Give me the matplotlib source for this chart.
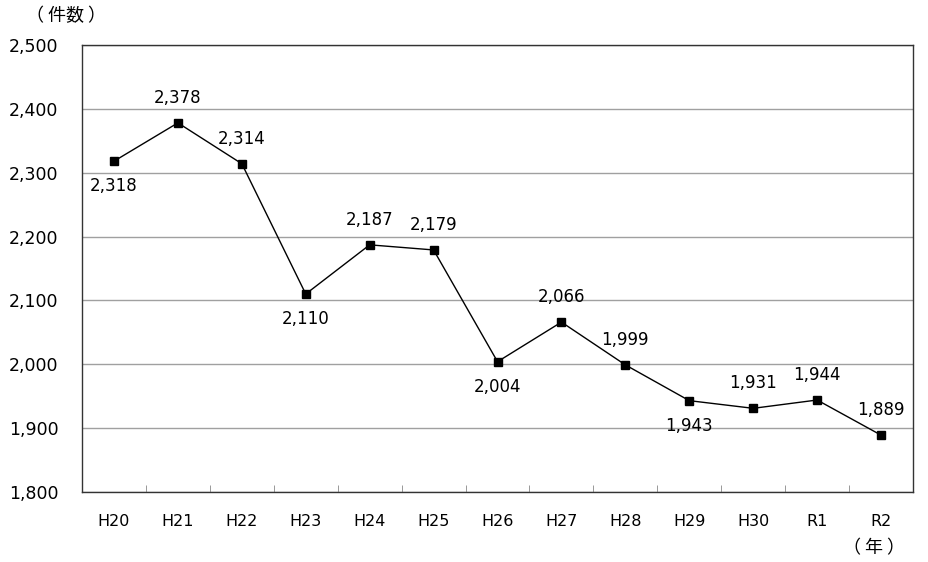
import matplotlib
matplotlib.use("Agg")
import matplotlib.pyplot as plt
from matplotlib.ticker import FixedLocator, FuncFormatter

plt.rcParams['font.family'] = ['DejaVu Sans', 'Noto Sans CJK JP']

years = ["H20", "H21", "H22", "H23", "H24", "H25", "H26",
         "H27", "H28", "H29", "H30", "R1", "R2"]
counts = [2318, 2378, 2314, 2110, 2187, 2179, 2004,
          2066, 1999, 1943, 1931, 1944, 1889]
# label placement: True = below the point
below = [True, False, False, True, False, False, True,
         False, False, True, False, False, False]

fig = plt.figure(figsize=(9.29, 5.62), dpi=100)
ax = fig.add_axes([0.0883, 0.1246, 0.8945, 0.7954])

x = list(range(len(years)))
ax.plot(x, counts, color='black', lw=1.0, marker='s', ms=5.5, mfc='black', mec='black', zorder=3)

for xi, v, b in zip(x, counts, below):
    off = -18 if b else 18
    ax.annotate(f"{v:,}", (xi, v), xytext=(0, off), textcoords='offset points',
                ha='center', va='center', fontsize=12)

ax.set_xlim(-0.5, len(years) - 0.5)
ax.set_ylim(1800, 2500)
ax.set_yticks(range(1800, 2501, 100))
ax.yaxis.set_major_formatter(FuncFormatter(lambda v, p: f"{int(v):,}"))
ax.set_xticks(x)
ax.set_xticklabels(years, fontsize=11.5)
ax.xaxis.set_minor_locator(FixedLocator([i + 0.5 for i in range(len(years) - 1)]))
ax.tick_params(axis='x', which='major', length=0, pad=16)
ax.tick_params(axis='x', which='minor', direction='in', length=5, color='#888888')
ax.tick_params(axis='y', length=0, pad=17, labelsize=12.5)

ax.grid(axis='y', color='#a0a0a0', lw=1.0)
ax.set_axisbelow(True)
for s in ax.spines.values():
    s.set_color('#333333')
    s.set_linewidth(1.0)

cjk = ['Noto Sans CJK JP', 'DejaVu Sans']
fig.text(0.028, 0.972, "（ 件数 ）", fontsize=13, ha='left', va='center', family=cjk)
fig.text(0.974, 0.025, "（ 年 ）", fontsize=13, ha='right', va='center', family=cjk)

fig.savefig("out.png", dpi=100)
